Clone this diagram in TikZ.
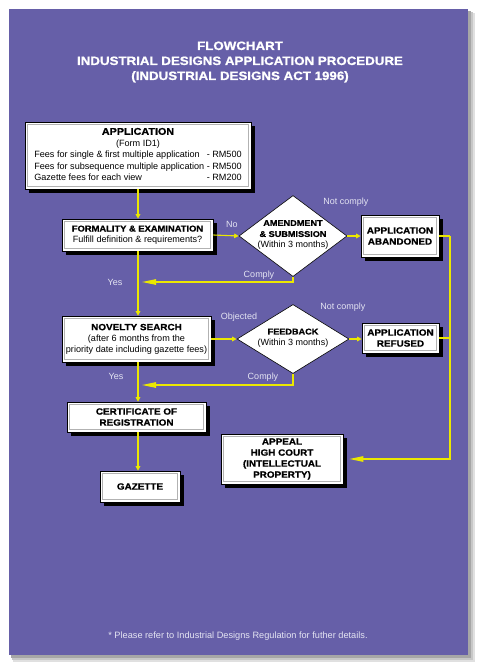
\documentclass[tikz,border=0pt]{standalone}
\usepackage{fontspec}
\setmainfont{Liberation Sans}
\newfontfamily\hvy{Liberation Sans}[FakeStretch=1.1, BoldFeatures={FakeBold=1.0}]
\usetikzlibrary{arrows.meta,shadows,shapes.geometric}
\definecolor{bgpurple}{RGB}{102,95,168}
\definecolor{lineyel}{RGB}{235,232,0}
\definecolor{lbl}{RGB}{228,228,242}
\begin{document}
\begin{tikzpicture}[x=1pt,y=-1pt,
  box/.style={draw=black, line width=0.6pt, fill=white, inner sep=0pt, align=center,
    font=\fontsize{9}{11}\selectfont\hvy\bfseries,
    drop shadow={shadow xshift=4pt, shadow yshift=-4pt, fill=black, opacity=1},
    path picture={\draw[gray!60, line width=0.9pt]
      ([shift={(2.5pt,-2.5pt)}]path picture bounding box.north west) rectangle
      ([shift={(-2.5pt,2.5pt)}]path picture bounding box.south east);}},
  dia/.style={diamond, draw=black, line width=0.6pt, fill=white, inner sep=0pt},
  dtext/.style={align=center, inner sep=0pt, font=\fontsize{8.3}{11}\selectfont\hvy\bfseries},
  reg/.style={font=\fontsize{9.1}{11}\selectfont\normalfont},
  lab/.style={text=lbl, inner sep=0pt, font=\fontsize{9}{11}\selectfont},
  conn/.style={draw=lineyel, line width=1.1pt},
  sarr/.style={conn, -{Triangle[length=4.5pt,width=4.5pt]}},
  larr/.style={conn, -{Triangle[length=14pt,width=5.5pt]}}]
\useasboundingbox (0,0) rectangle (481,670);
\fill[white] (0,0) rectangle (481,670);
% panel shadow
\fill[black!12] (13,13) rectangle (475,662);
\fill[black!22] (12,12) rectangle (473,660);
\fill[black!35] (11,11) rectangle (471,658);
\fill[bgpurple] (9,9) rectangle (468,655);
% title
\node[text=white, align=center, inner sep=0pt, font=\fontsize{12.1}{15}\selectfont\hvy\bfseries] (title) at (240,62)
  {FLOWCHART\\INDUSTRIAL DESIGNS APPLICATION PROCEDURE\\(INDUSTRIAL DESIGNS ACT 1996)};
% boxes
\node[box, minimum width=226pt, minimum height=67pt] (app) at (138,155.5)
  {\fontsize{9.1}{11.5}\selectfont\normalfont\begin{tabular}{@{}l@{\ }r@{}}
   \multicolumn{2}{c}{\fontsize{9.8}{11.5}\selectfont\hvy\bfseries APPLICATION}\\
   \multicolumn{2}{c}{(Form ID1)}\\
   Fees for single \& first multiple application & - RM500\\
   Fees for subsequence multiple application & - RM500\\
   Gazette fees for each view & - RM200
  \end{tabular}};
\node[box, minimum width=151pt, minimum height=32pt, font=\fontsize{8.5}{11}\selectfont\hvy\bfseries] (form) at (137.5,235)
  {FORMALITY \& EXAMINATION\\{\fontsize{9.1}{11}\selectfont\normalfont Fulfill definition \& requirements?}};
\node[dia, minimum width=108pt, minimum height=81pt] (amend) at (293,236) {};
\node[dtext] (amendt) at (293,235) {AMENDMENT\\\& SUBMISSION\\{\fontsize{9}{11}\selectfont\normalfont (Within 3 months)}};
\node[box, minimum width=78pt, minimum height=42pt] (aband) at (400,236) {APPLICATION\\ABANDONED};
\node[box, minimum width=149pt, minimum height=46pt] (nov) at (136.5,339)
  {NOVELTY SEARCH\\{\fontsize{9.1}{11}\selectfont\normalfont (after 6 months from the}\\{\fontsize{9.1}{11}\selectfont\normalfont priority date including gazette fees)}};
\node[dia, minimum width=112pt, minimum height=69pt] (feed) at (293,339) {};
\node[dtext] (feedt) at (293,338) {FEEDBACK\\{\fontsize{9}{11}\selectfont\normalfont (Within 3 months)}};
\node[box, minimum width=77pt, minimum height=30pt] (ref) at (400.5,338) {APPLICATION\\REFUSED};
\node[box, minimum width=139pt, minimum height=30pt] (cert) at (136.5,417) {CERTIFICATE OF\\REGISTRATION};
\node[box, minimum width=80pt, minimum height=31pt] (gaz) at (140,486.5) {GAZETTE};
\node[box, minimum width=122pt, minimum height=50pt] (appeal) at (282,459)
  {APPEAL\\HIGH COURT\\(INTELLECTUAL\\PROPERTY)};
% coordinates
\coordinate (rt) at (450,236);
\coordinate (c1) at (142,282);
\coordinate (c2) at (142,385);
% connectors
\draw[sarr] (app.south) -- (app.south |- form.north);
\draw[sarr] (form.east) -- (amend.west);
\draw[sarr] (amend.east) -- (aband.west);
\draw[conn] (aband.east) -- (rt);
\draw[larr] (rt) |- ([xshift=6pt]appeal.east);
\draw[larr] (amend.south) |- (c1);
\draw[sarr] (app.south |- form.south) -- (app.south |- nov.north);
\draw[sarr] (nov.east) -- (feed.west);
\draw[sarr] (feed.east) -- (feed.east -| ref.west);
\draw[conn] (ref.east) -- (ref.east -| rt);
\draw[larr] (feed.south) |- (c2);
\draw[sarr] (app.south |- nov.south) -- (app.south |- cert.north);
\draw[sarr] (app.south |- cert.south) -- (app.south |- gaz.north);
% labels
\node[lab] (lno) at (232,224) {No};
\node[lab] (lnc1) at (346,202) {Not comply};
\node[lab] (lc1) at (259,275) {Comply};
\node[lab] (ly1) at (115,282) {Yes};
\node[lab] (lobj) at (239,317) {Objected};
\node[lab] (lnc2) at (343,307) {Not comply};
\node[lab] (lc2) at (263,377) {Comply};
\node[lab] (ly2) at (116,376) {Yes};
\node[lab, font=\fontsize{9.2}{11}\selectfont] (foot) at (238,636)
  {* Please refer to Industrial Designs Regulation for futher details.};
\end{tikzpicture}
\end{document}
